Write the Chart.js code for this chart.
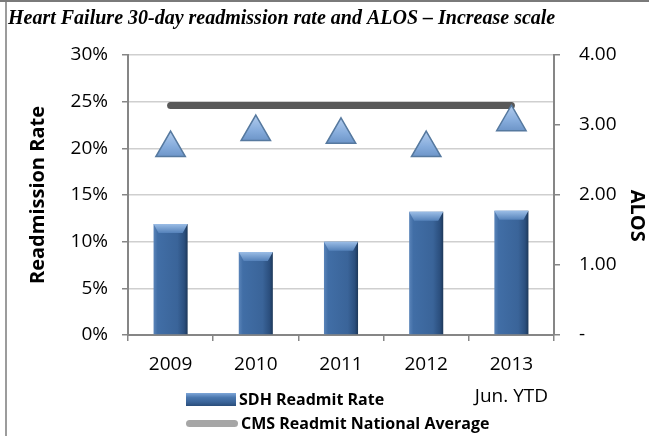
<!DOCTYPE html>
<html lang="en">
<head>
    <meta charset="UTF-8">
    <title>Heart Failure 30-day readmission rate and ALOS</title>
    <script src="https://cdn.jsdelivr.net/npm/chart.js"></script>
    <style>
        body {
            margin: 0;
            background: #fff;
            font-family: "Open Sans", sans-serif;
        }
        #wrap {
            position: relative;
            width: 649px;
            height: 436px;
            overflow: hidden;
        }
        #frameTop {
            position: absolute;
            left: 0; top: 0;
            width: 649px; height: 2px;
            background: #7a7a7a;
        }
        #frameLeft {
            position: absolute;
            left: 5px; top: 2px;
            width: 2px; height: 434px;
            background: #9c9c9c;
        }
        .legend-row {
            position: absolute;
            left: 186px;
            height: 20px;
            display: flex;
            align-items: center;
            font-weight: bold;
            font-size: 16px;
            color: #000;
            white-space: nowrap;
        }
        .swatch-bar {
            width: 50px; height: 13px;
            margin-right: 3px;
            background: linear-gradient(to bottom, #7ea6d8 0%, #4a77ae 35%, #3a6499 70%, #2a4d7a 100%);
        }
        .swatch-line {
            width: 52px; height: 7px;
            margin-right: 3px;
            border-radius: 4px;
            background: #a6a6a6;
        }
    </style>
</head>
<body>
<div id="wrap">
    <canvas id="hfChart" width="649" height="436"></canvas>
    <div id="frameTop"></div>
    <div id="frameLeft"></div>
    <div class="legend-row" style="top:389px"><span class="swatch-bar"></span>SDH Readmit Rate</div>
    <div class="legend-row" style="top:413px"><span class="swatch-line"></span>CMS Readmit National Average</div>
</div>

<script>
    const years = [['2009'], ['2010'], ['2011'], ['2012'], ['2013', '', 'Jun. YTD']];
    const sdhRate = [11.9, 8.9, 10.0, 13.2, 13.3];
    const cmsAverage = [24.6, 24.6, 24.6, 24.6, 24.6];
    const alos = [2.67, 2.90, 2.86, 2.67, 3.04];
    const rateTicks = [0, 5, 10, 15, 20, 25, 30];
    const alosTicks = [0, 1, 2, 3, 4];

    Chart.defaults.font.family = '"Open Sans", sans-serif';
    Chart.defaults.color = '#000';

    const axisGray = '#868686';
    const gridGray = '#cfcfcf';
    const barFrac = 0.4;
    const triRadius = 17;

    // horizontal shading across each bar
    function barFill(context) {
        const chart = context.chart;
        const xs = chart.scales.x;
        if (!xs || !chart.chartArea) return '#3b6aa0';
        const cx = xs.getPixelForValue(context.dataIndex);
        const half = xs.width / years.length * barFrac / 2;
        const g = chart.ctx.createLinearGradient(cx - half, 0, cx + half, 0);
        g.addColorStop(0, '#5a84b9');
        g.addColorStop(0.12, '#416ea6');
        g.addColorStop(0.7, '#3a6499');
        g.addColorStop(0.9, '#2b4f7e');
        g.addColorStop(1, '#1d3859');
        return g;
    }

    // vertical shading on the triangle markers
    function triFill(context) {
        const chart = context.chart;
        const ys = chart.scales.y1;
        if (!ys || !chart.chartArea || context.raw == null) return '#8cb1df';
        const cy = ys.getPixelForValue(context.raw);
        const g = chart.ctx.createLinearGradient(0, cy - triRadius, 0, cy + triRadius / 2);
        g.addColorStop(0, '#b3cdee');
        g.addColorStop(0.6, '#86acdc');
        g.addColorStop(1, '#6d95c8');
        return g;
    }

    // light bevel on top of each bar
    const barBevel = {
        id: 'barBevel',
        afterDatasetDraw(chart, args) {
            const ds = chart.data.datasets[args.index];
            if (ds.type !== 'bar') return;
            const c = chart.ctx;
            args.meta.data.forEach(bar => {
                const half = bar.width / 2;
                const top = bar.y;
                const g = c.createLinearGradient(0, top, 0, top + 9);
                g.addColorStop(0, '#9bbde6');
                g.addColorStop(1, '#5582ba');
                c.save();
                c.beginPath();
                c.moveTo(bar.x - half, top);
                c.lineTo(bar.x + half, top);
                c.lineTo(bar.x + half - 5, top + 9);
                c.lineTo(bar.x - half + 5, top + 9);
                c.closePath();
                c.fillStyle = g;
                c.fill();
                c.restore();
            });
        }
    };

    const ctx = document.getElementById('hfChart').getContext('2d');
    const chart = new Chart(ctx, {
        data: {
            labels: years,
            datasets: [
                {
                    type: 'line',
                    label: 'ALOS',
                    data: alos,
                    yAxisID: 'y1',
                    showLine: false,
                    pointStyle: 'triangle',
                    pointRadius: triRadius,
                    pointHoverRadius: triRadius,
                    pointBackgroundColor: triFill,
                    pointBorderColor: '#56799f',
                    pointBorderWidth: 1.5,
                    order: 1
                },
                {
                    type: 'line',
                    label: 'CMS Readmit National Average',
                    data: cmsAverage,
                    yAxisID: 'y',
                    borderColor: '#595959',
                    borderWidth: 7,
                    borderCapStyle: 'round',
                    pointRadius: 0,
                    tension: 0,
                    order: 2
                },
                {
                    type: 'bar',
                    label: 'SDH Readmit Rate',
                    data: sdhRate,
                    yAxisID: 'y',
                    backgroundColor: barFill,
                    borderWidth: 0,
                    categoryPercentage: 1,
                    barPercentage: barFrac,
                    order: 3
                }
            ]
        },
        plugins: [barBevel],
        options: {
            responsive: false,
            animation: false,
            layout: { padding: { left: 8, right: 0, top: 0, bottom: 0 } },
            plugins: {
                legend: { display: false },
                tooltip: { enabled: false },
                title: {
                    display: true,
                    text: 'Heart Failure 30-day readmission rate and ALOS \u2013 Increase scale',
                    align: 'start',
                    color: '#000',
                    font: { family: '"Liberation Serif", "Times New Roman", serif', size: 20, weight: 'bold', style: 'italic', lineHeight: 1.2 },
                    padding: { top: 7, bottom: 24 }
                }
            },
            scales: {
                x: {
                    grid: {
                        offset: true,
                        drawOnChartArea: false,
                        drawTicks: true,
                        tickLength: 6,
                        tickColor: axisGray,
                        lineWidth: 1.5
                    },
                    border: { display: true, color: axisGray, width: 2 },
                    ticks: {
                        padding: 16,
                        maxRotation: 0,
                        font: { size: 19, lineHeight: '16px' }
                    },
                    afterFit: s => { s.height = 101; }
                },
                y: {
                    position: 'left',
                    min: 0,
                    max: 30,
                    afterBuildTicks: s => { s.ticks = rateTicks.map(v => ({ value: v })); },
                    ticks: {
                        padding: 14,
                        font: { size: 19 },
                        callback: v => v + '%'
                    },
                    grid: {
                        color: gridGray,
                        lineWidth: 1.5,
                        tickLength: 6,
                        tickColor: axisGray
                    },
                    border: { display: true, color: axisGray, width: 2 },
                    title: {
                        display: true,
                        text: 'Readmission Rate',
                        font: { size: 20, weight: 'bold', lineHeight: 1.2 },
                        padding: { top: 18, bottom: 0 }
                    },
                    afterFit: s => { s.width = 120; }
                },
                y1: {
                    position: 'right',
                    min: 0,
                    max: 4,
                    afterBuildTicks: s => { s.ticks = alosTicks.map(v => ({ value: v })); },
                    ticks: {
                        padding: 19,
                        font: { size: 19 },
                        callback: v => v === 0 ? '-' : v.toFixed(2)
                    },
                    grid: {
                        drawOnChartArea: false,
                        tickLength: 6,
                        tickColor: axisGray,
                        lineWidth: 1.5
                    },
                    border: { display: true, color: axisGray, width: 2 },
                    title: {
                        display: true,
                        text: '        ALOS',
                        font: { size: 20, weight: 'bold', lineHeight: 1.2 },
                        padding: { top: 0, bottom: 0 }
                    },
                    afterFit: s => { s.width = 95; }
                }
            }
        }
    });
</script>
</body>
</html>
